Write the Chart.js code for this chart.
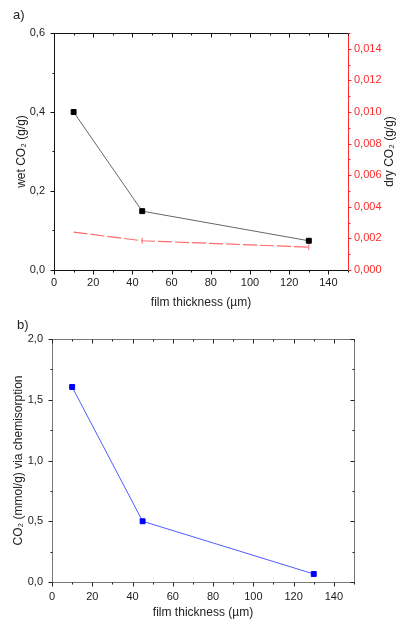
<!DOCTYPE html>
<html lang="en">
<head>
  <meta charset="UTF-8">
  <title>CO2 uptake vs film thickness</title>
  <script src="https://cdn.jsdelivr.net/npm/chart.js@4.4.1/dist/chart.umd.min.js"></script>
  <style>
    body { margin: 0; background: #fff; }
    .panel { position: absolute; left: 0; width: 398px; height: 310px; }
    #panelA { top: 0; }
    #panelB { top: 310px; }
  </style>
</head>
<body>
  <div class="panel" id="panelA"><canvas id="chartA" width="398" height="310"></canvas></div>
  <div class="panel" id="panelB"><canvas id="chartB" width="398" height="310"></canvas></div>

  <script>
    // data
    const thickness = [10, 45, 130];
    const wetCO2 = [0.40, 0.149, 0.074];
    const dryCO2 = [0.0024, 0.00185, 0.00145];
    const chemCO2 = [1.605, 0.50, 0.066];

    const FONT = '"Liberation Sans", Arial, sans-serif';
    const comma = d => v => v.toFixed(d).replace('.', ',');

    function line(ctx, x1, y1, x2, y2) {
      ctx.beginPath();
      ctx.moveTo(x1, y1);
      ctx.lineTo(x2, y2);
      ctx.stroke();
    }

    // tick marks along a horizontal edge at y, length len (negative = up)
    function hTicks(ctx, scale, y, from, to, step, len) {
      for (let v = from; v <= to + 1e-9; v += step) {
        const x = Math.round(scale.getPixelForValue(v)) + 0.5;
        line(ctx, x, y, x, y + len);
      }
    }
    // tick marks along a vertical edge at x, length len (negative = left)
    function vTicks(ctx, scale, x, from, to, step, len) {
      for (let v = from; v <= to + 1e-9; v += step) {
        const y = Math.round(scale.getPixelForValue(v)) + 0.5;
        line(ctx, x, y, x + len, y);
      }
    }

    // frame, minor/major ticks and the extra labels
    const framePlugin = {
      id: 'frame',
      afterDraw(chart, args, opts) {
        const { ctx, chartArea: a, scales } = chart;
        const L = a.left + 0.5, R = a.right + 0.5, T = a.top + 0.5, B = a.bottom + 0.5;
        ctx.save();
        ctx.lineWidth = 1;

        // box
        ctx.strokeStyle = opts.frameColor;
        line(ctx, L, T, R, T);
        line(ctx, L, T, L, B);
        line(ctx, L, B, R, B);
        ctx.strokeStyle = opts.rightColor;
        line(ctx, R, T, R, B);

        // x ticks: bottom outward, top inward
        ctx.strokeStyle = opts.tickColor;
        hTicks(ctx, scales.x, B, 0, 140, 20, 4);
        hTicks(ctx, scales.x, B, 10, 150, 20, 2);
        hTicks(ctx, scales.x, T, 0, 140, 20, 4);
        hTicks(ctx, scales.x, T, 10, 150, 20, 2);

        // left y ticks
        const ys = opts.y;
        vTicks(ctx, scales.y, L, 0, ys.max, ys.major, -4);
        vTicks(ctx, scales.y, L, ys.major / 2, ys.max, ys.major, -2);

        // right side ticks
        if (opts.y1) {
          ctx.strokeStyle = opts.rightColor;
          vTicks(ctx, scales.y1, R, 0, opts.y1.max, opts.y1.major, 3);
          vTicks(ctx, scales.y1, R, opts.y1.major / 2, opts.y1.max, opts.y1.major, 2);
        } else {
          vTicks(ctx, scales.y, R, 0, ys.max, ys.major, -4);
          vTicks(ctx, scales.y, R, ys.major / 2, ys.max, ys.major, -2);
        }

        // panel letter
        ctx.fillStyle = '#222';
        ctx.font = '13px ' + FONT;
        ctx.textBaseline = 'middle';
        ctx.textAlign = 'left';
        ctx.fillText(opts.letter, opts.letterX, opts.letterY);

        // right axis title reads bottom to top
        if (opts.rightTitle) {
          ctx.translate(opts.rightTitleX, (a.top + a.bottom) / 2);
          ctx.rotate(-Math.PI / 2);
          ctx.textAlign = 'center';
          ctx.font = '12px ' + FONT;
          ctx.fillText(opts.rightTitle, 0, 0);
        }
        ctx.restore();
      }
    };

    Chart.defaults.font.family = FONT;
    Chart.defaults.font.size = 11;
    Chart.defaults.color = '#222';

    const xAxis = (height, pad, titlePad) => ({
      type: 'linear',
      min: 0,
      max: 150,
      afterFit: s => { s.height = height; },
      afterBuildTicks: s => { s.ticks = [0, 20, 40, 60, 80, 100, 120, 140].map(v => ({ value: v })); },
      grid: { display: false, drawTicks: false },
      border: { display: false },
      ticks: { padding: pad, callback: v => String(v) },
      title: { display: true, text: 'film thickness (µm)', font: { size: 12 }, padding: { top: titlePad, bottom: 0 } }
    });

    // panel a
    new Chart(document.getElementById('chartA').getContext('2d'), {
      type: 'line',
      data: {
        labels: thickness,
        datasets: [
          {
            label: 'wet CO2',
            data: thickness.map((t, i) => ({ x: t, y: wetCO2[i] })),
            borderColor: '#666',
            borderWidth: 1,
            pointStyle: 'rect',
            pointRadius: 3.5,
            pointBackgroundColor: '#000',
            pointBorderColor: '#000',
            yAxisID: 'y'
          },
          {
            label: 'dry CO2',
            data: thickness.map((t, i) => ({ x: t, y: dryCO2[i] })),
            borderColor: '#ff6a6a',
            borderWidth: 1.2,
            borderDash: [14, 3],
            pointStyle: 'line',
            rotation: 90,
            pointRadius: [0, 3, 3],
            pointBorderColor: '#ff6a6a',
            pointBorderWidth: 1,
            yAxisID: 'y1'
          }
        ]
      },
      options: {
        responsive: false,
        animation: false,
        devicePixelRatio: 1,
        layout: { padding: { top: 33, right: 0, left: 0, bottom: 0 } },
        plugins: {
          legend: { display: false },
          tooltip: { enabled: false },
          frame: {
            frameColor: '#111', rightColor: '#ff2a2a', tickColor: '#111',
            y: { max: 0.6, major: 0.2 },
            y1: { max: 0.015, major: 0.002 },
            letter: 'a)', letterX: 13, letterY: 15,
            rightTitle: 'dry CO₂ (g/g)', rightTitleX: 390
          }
        },
        scales: {
          x: xAxis(40, 6, 6),
          y: {
            type: 'linear',
            position: 'left',
            min: 0,
            max: 0.6,
            afterFit: s => { s.width = 54; },
            afterBuildTicks: s => { s.ticks = [0, 0.2, 0.4, 0.6].map(v => ({ value: v })); },
            grid: { display: false, drawTicks: false },
            border: { display: false },
            ticks: { padding: 9, callback: comma(1) },
            title: { display: true, text: 'wet CO₂ (g/g)', font: { size: 12 }, padding: { top: 14, bottom: 0 } }
          },
          y1: {
            type: 'linear',
            position: 'right',
            min: 0,
            max: 0.015,
            afterFit: s => { s.width = 50; },
            afterBuildTicks: s => { s.ticks = [0, 0.002, 0.004, 0.006, 0.008, 0.010, 0.012, 0.014].map(v => ({ value: v })); },
            grid: { display: false, drawTicks: false },
            border: { display: false },
            ticks: { padding: 6, color: '#ff2a2a', callback: comma(3) }
          }
        }
      },
      plugins: [framePlugin]
    });

    // panel b
    new Chart(document.getElementById('chartB').getContext('2d'), {
      type: 'line',
      data: {
        labels: thickness,
        datasets: [
          {
            label: 'CO2 via chemisorption',
            data: thickness.map((t, i) => ({ x: t, y: chemCO2[i] })),
            borderColor: '#4f5cff',
            borderWidth: 1,
            pointStyle: 'rect',
            pointRadius: 3.5,
            pointBackgroundColor: '#0000ff',
            pointBorderColor: '#0000ff'
          }
        ]
      },
      options: {
        responsive: false,
        animation: false,
        devicePixelRatio: 1,
        layout: { padding: { top: 29, right: 44, left: 0, bottom: 0 } },
        plugins: {
          legend: { display: false },
          tooltip: { enabled: false },
          frame: {
            frameColor: '#777', rightColor: '#777', tickColor: '#222',
            y: { max: 2.0, major: 0.5 },
            letter: 'b)', letterX: 17, letterY: 15
          }
        },
        scales: {
          x: xAxis(38, 8, 2),
          y: {
            type: 'linear',
            min: 0,
            max: 2.0,
            afterFit: s => { s.width = 52; },
            afterBuildTicks: s => { s.ticks = [0, 0.5, 1.0, 1.5, 2.0].map(v => ({ value: v })); },
            grid: { display: false, drawTicks: false },
            border: { display: false },
            ticks: { padding: 9, callback: comma(1) },
            title: { display: true, text: 'CO₂ (mmol/g) via chemisorption', font: { size: 12 }, padding: { top: 11, bottom: 0 } }
          }
        }
      },
      plugins: [framePlugin]
    });
  </script>
</body>
</html>
